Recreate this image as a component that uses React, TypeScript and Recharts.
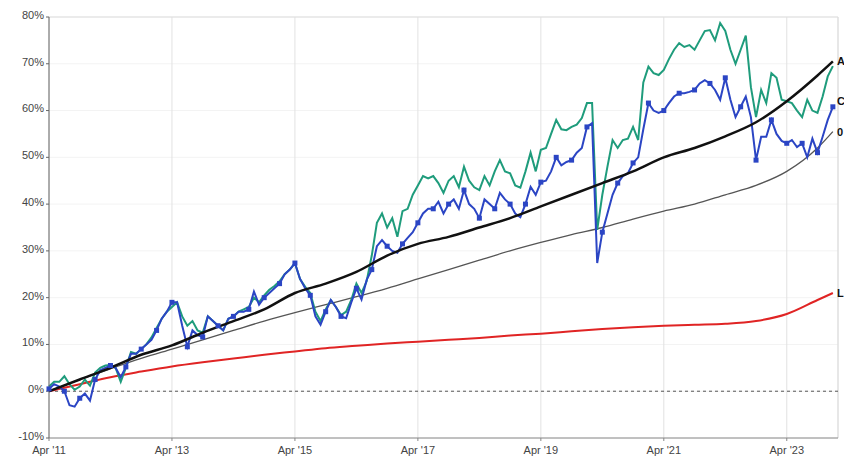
import { LineChart, Line, XAxis, YAxis, CartesianGrid, ReferenceLine } from 'recharts';

// months counted from Apr 2011 (index = month)
const greenValues = [
  1, 2, 2, 3.2, 1.5, 0.3, 1, 2.5, 1.2, 4, 5, 5.5, 5.6, 5, 2, 5, 8.4, 8, 9, 10,
  11.5, 13.5, 15.5, 17, 18, 19, 16, 14, 15, 13, 12.5, 16, 15, 14, 13, 15.5, 16, 17, 17.5, 18,
  20, 19, 20.5, 21.7, 22.5, 23.5, 25, 26, 27.4, 24, 22.3, 21, 17, 15, 17.5, 19.5, 18, 16.3, 17, 19.5,
  23, 21, 23.5, 29, 36, 38, 35, 37, 33, 38.5, 39, 42, 44, 46, 45.5, 46, 44.5, 42.4, 45, 46,
  43.6, 48, 45, 43.6, 43, 46, 44, 47, 49.4, 47, 46.6, 44, 43.5, 47, 51, 47, 51.6, 52, 55, 58,
  56, 55.8, 56.5, 57, 58.4, 61.6, 61.6, 34.5, 42, 48, 53.7, 52, 53.7, 54, 56.5, 53.7, 66, 69.4, 68, 67.6,
  68.7, 71, 73, 74.4, 73.6, 74, 73, 75, 77, 77.2, 75, 78.7, 77, 73, 70, 73, 76, 65, 58.6, 64.4,
  61.6, 68, 67, 62.3, 62, 61.6, 60, 58.6, 62.3, 60, 59.5, 63, 67.3, 69.5,
];

const blueValues = [
  0.5, 1.5, 1, 0, -3, -3.3, -1.5, -0.5, -2, 2.5, 4.5, 5, 5.5, 5, 3, 5.2, 8, 8, 9, 10,
  11, 13, 15.5, 17, 19, 19, 14, 9.5, 13, 12, 11.6, 16, 15, 14, 13, 15.5, 16, 17, 17, 17.5,
  21.3, 18.5, 20, 21, 22, 23, 25, 26, 27.4, 24, 22, 20.5, 16, 14.2, 17, 19.5, 18, 16, 15.6, 19,
  22, 19.6, 23.8, 26, 31, 32.3, 31, 30, 29.6, 31.5, 32.8, 34, 36, 38, 39, 39, 40.5, 38, 40, 41,
  39, 43, 40, 39, 37, 41, 40, 39, 42.4, 41, 40, 38, 37.2, 40, 43.7, 42, 44.7, 45, 47, 50,
  48.3, 49, 49.4, 51, 52, 56.5, 57.3, 27.4, 34, 38, 42, 44.5, 46, 46.6, 48.8, 50, 56, 61.6, 60, 59.5,
  60, 61.6, 63, 63.7, 63.7, 64, 64.4, 65.8, 66.5, 65.8, 64.4, 62.3, 67, 62.3, 58.6, 60.8, 63, 58.6, 49.4, 54.4,
  54.4, 58, 55, 53.5, 53, 53.7, 52.2, 53, 50, 54, 51, 54.4, 58, 60.8,
];

// smoother series, read every six months
const trendMonths = [0, 6, 12, 18, 24, 30, 36, 42, 48, 54, 60, 66, 72, 78, 84, 90, 96, 102, 108, 114, 120, 126, 132, 138, 144, 150, 153];
const blackValues = [0, 2.5, 5, 7.8, 9.8, 12.5, 15, 17.5, 21, 23, 25.5, 29, 31.5, 33, 35, 37, 39.5, 42, 44.5, 47, 50, 52, 54.5, 57.5, 62, 67.5, 70.5];
const grayValues = [0, 2.5, 4.8, 7, 9, 11, 13, 15, 16.8, 18.5, 20.2, 22, 24, 26, 28, 30, 31.8, 33.5, 35, 36.8, 38.5, 40, 42, 44, 47, 52, 55.5];
const redValues = [0, 1.5, 3, 4.2, 5.3, 6.2, 7, 7.8, 8.5, 9.2, 9.7, 10.2, 10.6, 11, 11.4, 11.9, 12.3, 12.8, 13.3, 13.7, 14, 14.2, 14.4, 15, 16.5, 19.5, 21];

const xTicks = [0, 24, 48, 72, 96, 120, 144];
const yTicks = [-10, 0, 10, 20, 30, 40, 50, 60, 70, 80];

const noisyData = greenValues.map((g, i) => ({ m: i, green: g, blue: blueValues[i] }));
const trendData = trendMonths.map((m, i) => ({ m, black: blackValues[i], gray: grayValues[i], red: redValues[i] }));

const FONT = '"Liberation Sans", Arial, sans-serif';
const GREEN = '#1f9c7c';
const BLUE = '#2b45c4';

const endLabel = (text: string, last: number, dy = 0) => (props: any) => {
  if (props.index !== last) return null;
  return (
    <text
      x={props.x + 4}
      y={props.y + dy}
      fontSize={11}
      fontWeight="bold"
      fontFamily={FONT}
      fill="#111"
      dominantBaseline="central"
    >
      {text}
    </text>
  );
};

const squareDot = (props: any) => {
  const { cx, cy, index } = props;
  if (index % 3 !== 0) return <g key={`d-${index}`} />;
  return <rect key={`d-${index}`} x={cx - 2.5} y={cy - 2.5} width={5} height={5} fill={BLUE} />;
};

export default function App() {
  const lastTrend = trendData.length - 1;
  const lastNoisy = noisyData.length - 1;
  return (
    <div style={{ position: 'absolute', left: 0, top: 0, background: '#fff' }}>
      <LineChart width={844} height={458} data={noisyData} margin={{ top: 17, right: 6, bottom: 0, left: 0 }}>
        <CartesianGrid vertical={false} stroke="#f3f3f3" />
        <CartesianGrid horizontal={false} stroke="#e2e2e2" />
        <XAxis
          dataKey="m"
          type="number"
          domain={[0, 154]}
          ticks={xTicks}
          interval={0}
          height={20}
          tickSize={3}
          tickMargin={5}
          stroke="#888"
          tick={{ fontSize: 11, fill: '#444', fontFamily: FONT }}
          tickFormatter={(m: number) => `Apr '${11 + m / 12}`}
        />
        <YAxis
          type="number"
          domain={[-10, 80]}
          ticks={yTicks}
          interval={0}
          width={49}
          tickSize={3}
          stroke="#666"
          tick={{ fontSize: 11, fill: '#444', fontFamily: FONT, dy: -2 }}
          tickFormatter={(v: number) => `${v}%`}
        />
        <ReferenceLine y={80} stroke="#dddddd" />
        <ReferenceLine x={154} stroke="#dddddd" />
        <ReferenceLine y={0} stroke="#555" strokeDasharray="3 3" />
        <Line
          data={trendData}
          dataKey="red"
          type="monotone"
          stroke="#e02424"
          strokeWidth={2}
          dot={false}
          isAnimationActive={false}
          label={endLabel('L', lastTrend)}
        />
        <Line
          data={trendData}
          dataKey="gray"
          type="monotone"
          stroke="#555"
          strokeWidth={1.3}
          dot={false}
          isAnimationActive={false}
          label={endLabel('0', lastTrend)}
        />
        <Line
          dataKey="green"
          type="linear"
          stroke={GREEN}
          strokeWidth={2}
          dot={false}
          isAnimationActive={false}
        />
        <Line
          dataKey="blue"
          type="linear"
          stroke={BLUE}
          strokeWidth={2}
          dot={squareDot}
          isAnimationActive={false}
          label={endLabel('C', lastNoisy, -6)}
        />
        <Line
          data={trendData}
          dataKey="black"
          type="monotone"
          stroke="#111"
          strokeWidth={2.5}
          dot={false}
          isAnimationActive={false}
          label={endLabel('A', lastTrend)}
        />
      </LineChart>
    </div>
  );
}
